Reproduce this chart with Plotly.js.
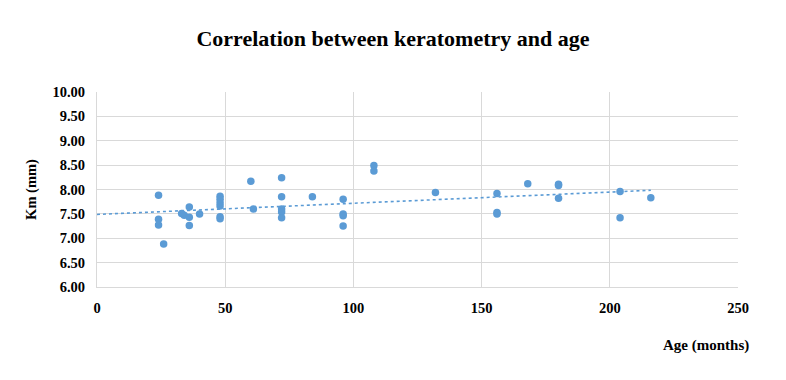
<!DOCTYPE html>
<html><head><meta charset="utf-8">
<script src="https://cdn.plot.ly/plotly-3.0.1.min.js"></script>
<style>html,body{margin:0;padding:0;background:#fff}#chart{width:786px;height:380px}</style>
</head><body><div id="chart"></div>
<script>
const ageMonths = [24,24,24,26,33,34,36,36,36,40,48,48,48,48,48,48,60,61,72,72,72,72,72,84,96,96,96,96,108,108,132,156,156,156,168,180,180,180,204,204,216];
const kmValues  = [7.88,7.39,7.27,6.88,7.51,7.47,7.64,7.43,7.26,7.50,7.86,7.80,7.73,7.66,7.44,7.40,8.17,7.60,8.24,7.85,7.60,7.54,7.42,7.85,7.80,7.50,7.46,7.25,8.49,8.38,7.94,7.92,7.53,7.50,8.12,8.11,8.08,7.82,7.96,7.42,7.83];
const xTicks = [0,50,100,150,200,250];
const yTicks = [6.0,6.5,7.0,7.5,8.0,8.5,9.0,9.5,10.0];

// linear regression trendline
const n = ageMonths.length;
const mx = ageMonths.reduce((a,b)=>a+b,0)/n;
const my = kmValues.reduce((a,b)=>a+b,0)/n;
let sxy=0,sxx=0;
for(let i=0;i<n;i++){sxy+=(ageMonths[i]-mx)*(kmValues[i]-my);sxx+=(ageMonths[i]-mx)**2;}
const slope=sxy/sxx, icpt=my-slope*mx;
const xmax=Math.max(...ageMonths);
const trendX=[0,xmax], trendY=trendX.map(x=>icpt+slope*x);

const blue='#5b9bd5';
const font='"Liberation Serif", "Times New Roman", serif';
Plotly.newPlot('chart',[
 {x:trendX,y:trendY,mode:'lines',line:{color:blue,width:1.6,dash:'dot'},hoverinfo:'skip'},
 {x:ageMonths,y:kmValues,mode:'markers',marker:{color:blue,size:7.5}}
],{
 width:786,height:380,showlegend:false,
 paper_bgcolor:'#fff',plot_bgcolor:'#fff',
 margin:{l:97,r:48,t:92,b:93},
 font:{family:font,color:'#000'},
 title:{text:'<b>Correlation between keratometry and age</b>',font:{family:font,size:22,color:'#000'},x:0.5,xanchor:'center',y:0.9,yanchor:'middle'},
 xaxis:{range:[0,250],tickvals:xTicks,ticktext:xTicks.map(String),showgrid:true,gridcolor:'#d9d9d9',gridwidth:1,zeroline:false,
   showline:true,linecolor:'#d9d9d9',mirror:false,ticks:'',tickfont:{family:font,size:14.5,color:'#000',weight:'bold'},ticklabelstandoff:8},
 yaxis:{range:[6,10],tickvals:yTicks,ticktext:yTicks.map(v=>v.toFixed(2)),showgrid:true,gridcolor:'#d9d9d9',gridwidth:1,zeroline:false,
   showline:true,linecolor:'#d9d9d9',ticks:'',tickfont:{family:font,size:14.5,color:'#000',weight:'bold'},ticklabelstandoff:8,
   title:{text:'<b>Km (mm)</b>',font:{family:font,size:14.5,color:'#000'},standoff:12}},
 annotations:[{text:'<b>Age (months)</b>',xref:'paper',yref:'paper',x:1.02,y:-0.3,xanchor:'right',yanchor:'middle',showarrow:false,font:{family:font,size:15,color:'#000'}}]
},{displayModeBar:false,staticPlot:true});
</script></body></html>
